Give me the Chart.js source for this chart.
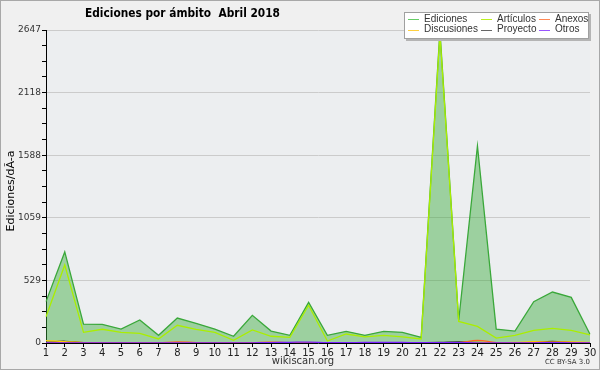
<!DOCTYPE html>
<html>
<head>
<meta charset="utf-8">
<script src="https://cdn.jsdelivr.net/npm/chart.js@4"></script>
<style>
  body { margin: 0; background: #f0f0f0; }
  #wrap { width: 600px; height: 370px; }
</style>
</head>
<body>
<div id="wrap"><canvas id="chart" width="600" height="370"></canvas></div>
<script>
// Days of April 2018
const days = ['1','2','3','4','5','6','7','8','9','10','11','12','13','14','15',
              '16','17','18','19','20','21','22','23','24','25','26','27','28','29','30'];

// Edits per day, by scope
const ediciones   = [350, 770, 160, 158, 118, 195, 65, 211, 166, 118, 57, 234, 101, 65, 344,
                     65, 99, 65, 99, 90, 48, 2640, 190, 1666, 118, 101, 349, 431, 386, 74];
const articulos   = [222, 660, 90, 116, 90, 82, 34, 150, 116, 90, 23, 110, 57, 48, 319,
                     17, 76, 51, 65, 51, 34, 2610, 182, 141, 42, 65, 107, 124, 107, 68];
const anexos      = [2, 2, 1, 1, 1, 1, 1, 10, 3, 1, 1, 2, 8, 2, 1,
                     1, 1, 1, 1, 1, 1, 2, 3, 22, 4, 2, 4, 6, 4, 2];
const discusiones = [20, 12, 4, 3, 2, 3, 2, 3, 2, 2, 3, 2, 4, 3, 2,
                     2, 2, 3, 2, 2, 3, 3, 4, 6, 3, 5, 12, 8, 10, 5];
const proyecto    = [5, 15, 3, 1, 1, 1, 1, 2, 1, 1, 1, 1, 3, 2, 1,
                     1, 1, 1, 2, 2, 3, 5, 10, 6, 2, 3, 6, 14, 5, 2];
const otros       = [1, 1, 1, 1, 1, 1, 1, 1, 1, 2, 1, 2, 4, 6, 8,
                     3, 3, 5, 6, 5, 3, 4, 4, 2, 1, 1, 2, 3, 2, 1];

// y axis: max value and the labels of the major ticks
const yMax = 2647;
const yTickLabels = ['0', '529', '1059', '1588', '2118', '2647'];

const FONT = 'DejaVu Sans';
const FONT2 = 'Liberation Sans';

// background, frame, title, axis title, footers and legend
const decor = {
  id: 'decor',
  beforeDraw(chart) {
    const { ctx, chartArea: a } = chart;
    ctx.save();
    ctx.fillStyle = '#f0f0f0';
    ctx.fillRect(0, 0, chart.width, chart.height);
    ctx.fillStyle = '#eceef0';
    ctx.fillRect(a.left, a.top, a.right - a.left, a.bottom - a.top);
    ctx.restore();
  },
  afterDraw(chart) {
    const ctx = chart.ctx;
    ctx.save();
    // frame
    ctx.strokeStyle = '#a8a8a8';
    ctx.lineWidth = 1;
    ctx.strokeRect(0.5, 0.5, chart.width - 1, chart.height - 1);

    // title, squeezed to the width it has in the original
    const title = 'Ediciones por ámbito  Abril 2018';
    ctx.fillStyle = '#000';
    ctx.font = 'bold 13px ' + FONT;
    ctx.textAlign = 'center';
    ctx.textBaseline = 'middle';
    const tw = ctx.measureText(title).width;
    ctx.save();
    ctx.translate(182.5, 14);
    ctx.scale(Math.min(1, 195 / tw), 1);
    ctx.fillText(title, 0, 0);
    ctx.restore();

    // y axis title
    ctx.save();
    ctx.translate(11, 191);
    ctx.rotate(-Math.PI / 2);
    ctx.font = '11px ' + FONT;
    ctx.fillText('Ediciones/dÃ-a', 0, 0);
    ctx.restore();

    // footers
    ctx.fillStyle = '#333';
    ctx.font = '10px ' + FONT;
    ctx.fillText('wikiscan.org', 303, 361);
    ctx.font = '7px ' + FONT;
    ctx.textAlign = 'right';
    ctx.fillText('CC BY-SA 3.0', 590, 362);

    // legend
    const bx = 404, by = 12, bw = 185, bh = 27;
    ctx.fillStyle = '#b4b4b4';
    ctx.fillRect(bx + 2, by + 2, bw, bh);
    ctx.fillStyle = '#fff';
    ctx.fillRect(bx, by, bw, bh);
    ctx.strokeStyle = '#a0a0a0';
    ctx.strokeRect(bx + 0.5, by + 0.5, bw - 1, bh - 1);

    const cols = [408, 481, 539];
    const rows = [19, 29.5];
    ctx.font = '10px ' + FONT2;
    ctx.textAlign = 'left';
    chart.data.datasets.forEach((ds, k) => {
      const x = cols[k % 3], y = rows[Math.floor(k / 3)];
      ctx.strokeStyle = ds.legendColor || ds.borderColor;
      ctx.lineWidth = 1;
      ctx.beginPath();
      ctx.moveTo(x, Math.round(y) + 0.5);
      ctx.lineTo(x + 11, Math.round(y) + 0.5);
      ctx.stroke();
      ctx.fillStyle = '#333';
      ctx.fillText(ds.label, x + 16, y);
    });
    ctx.restore();
  }
};

const ctx = document.getElementById('chart').getContext('2d');

new Chart(ctx, {
  type: 'line',
  data: {
    labels: days,
    datasets: [
      { label: 'Ediciones', data: ediciones, borderColor: '#3aa83a', legendColor: '#66cc66',
        backgroundColor: 'rgba(60,170,60,0.45)', fill: 'origin', borderWidth: 1.3, order: 3 },
      { label: 'Artículos', data: articulos, borderColor: '#aaee00', legendColor: '#bbf022',
        fill: false, borderWidth: 1.3, order: 2 },
      { label: 'Anexos', data: anexos, borderColor: '#ff6622', legendColor: '#ff8855',
        fill: false, borderWidth: 1.2, tension: 0.4, order: 1 },
      { label: 'Discusiones', data: discusiones, borderColor: '#ffcc00', legendColor: '#ffd040',
        fill: false, borderWidth: 1.2, tension: 0.4, order: 1 },
      { label: 'Proyecto', data: proyecto, borderColor: '#333333', legendColor: '#666666',
        fill: false, borderWidth: 1.2, tension: 0.4, order: 1 },
      { label: 'Otros', data: otros, borderColor: '#7a1fff', legendColor: '#9955ff',
        fill: false, borderWidth: 1.2, tension: 0.4, order: 0 }
    ]
  },
  options: {
    responsive: false,
    animation: false,
    layout: { padding: { top: 30, right: 10, left: 0, bottom: 0 } },
    elements: { point: { radius: 0 }, line: { tension: 0 } },
    plugins: {
      legend: { display: false },
      title: { display: false },
      tooltip: { enabled: false },
      filler: { drawTime: 'beforeDatasetsDraw' }
    },
    scales: {
      x: {
        offset: false,
        grid: { drawOnChartArea: false, tickColor: '#000', tickLength: 4 },
        border: { color: '#000', width: 1 },
        ticks: { font: { family: FONT, size: 10 }, color: '#222', padding: 0,
                 maxRotation: 0, autoSkip: false },
        afterFit(scale) { scale.height = 27; }
      },
      y: {
        min: 0,
        max: yMax,
        afterBuildTicks(scale) {
          const t = [];
          for (let i = 0; i <= 20; i++) t.push({ value: yMax * i / 20 });
          scale.ticks = t;
        },
        grid: {
          color: (c) => (c.index % 4 === 0 && c.index > 0) ? '#cbcbcb' : 'rgba(0,0,0,0)',
          tickColor: '#000',
          tickLength: 4
        },
        border: { color: '#000', width: 1 },
        ticks: {
          autoSkip: false,
          font: { family: FONT, size: 9 },
          color: '#333',
          padding: 1,
          callback: (v, i) => (i % 4 === 0 ? yTickLabels[i / 4] : '')
        },
        afterFit(scale) { scale.width = 46; }
      }
    }
  },
  plugins: [decor]
});
</script>
</body>
</html>
